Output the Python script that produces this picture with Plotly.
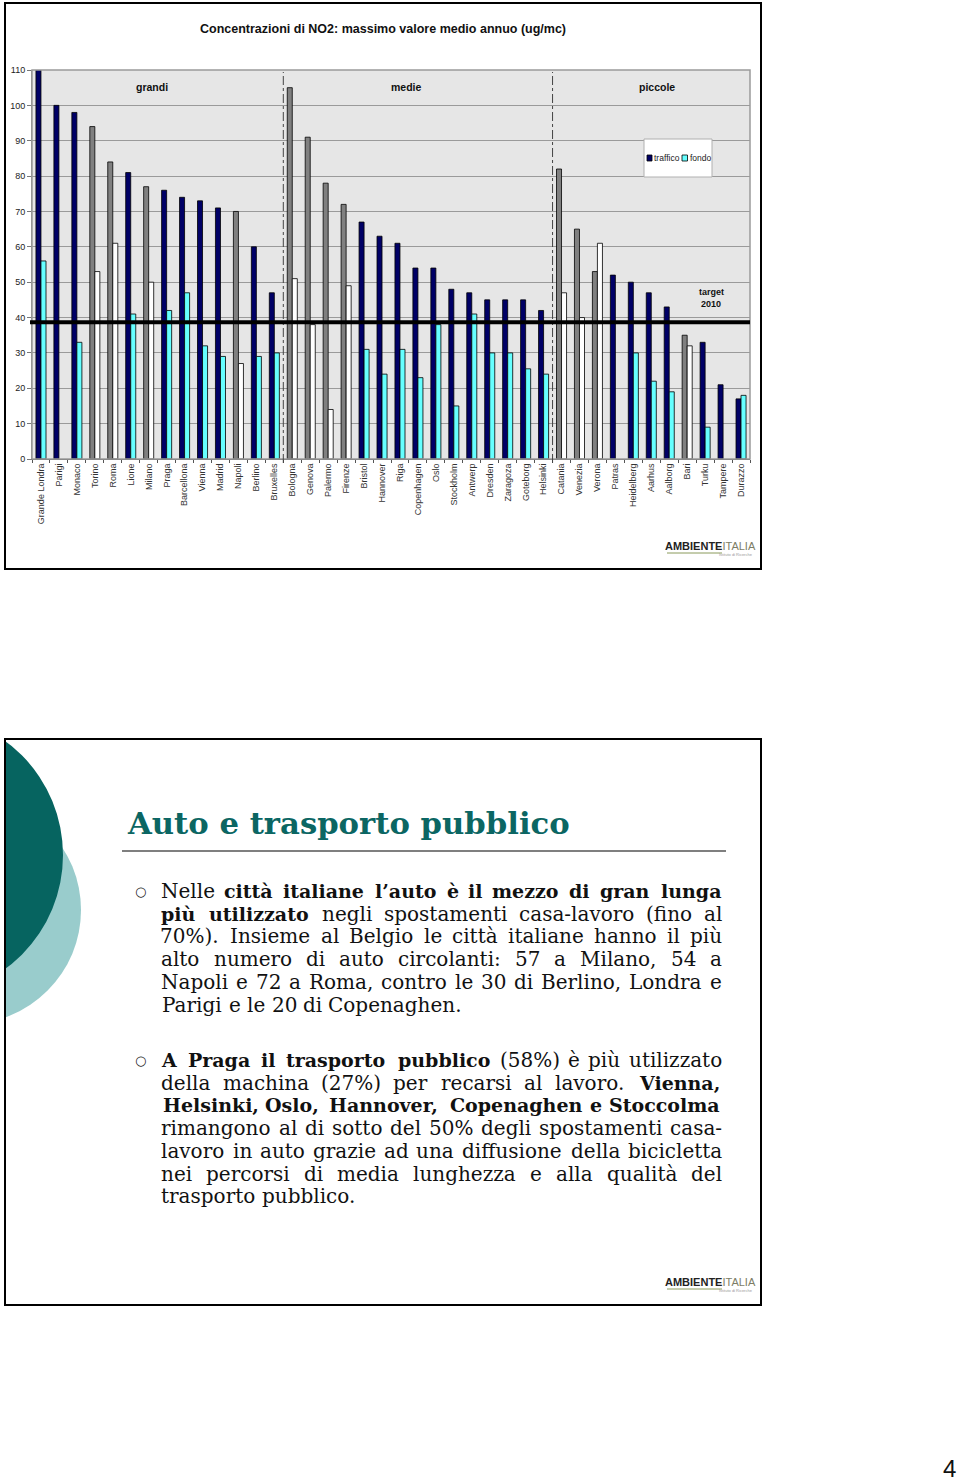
import plotly.graph_objects as go

W, H = 960, 1484


def px(x):
    return x / W


def py(y):
    return 1 - y / H


# ---------------- data ----------------
cities = ["Grande Londra", "Parigi", "Monaco", "Torino", "Roma", "Lione", "Milano", "Praga",
          "Barcellona", "Vienna", "Madrid", "Napoli", "Berlino", "Bruxelles", "Bologna", "Genova",
          "Palermo", "Firenze", "Bristol", "Hannover", "Riga", "Copenhagen", "Oslo", "Stockholm",
          "Antwerp", "Dresden", "Zaragoza", "Goteborg", "Helsinki", "Catania", "Venezia", "Verona",
          "Patras", "Heidelberg", "Aarhus", "Aalborg", "Bari", "Turku", "Tampere", "Durazzo"]
traffico = [111, 100, 98, 94, 84, 81, 77, 76, 74, 73, 71, 70, 60, 47, 105, 91,
            78, 72, 67, 63, 61, 54, 54, 48, 47, 45, 45, 45, 42, 82, 65, 53,
            52, 50, 47, 43, 35, 33, 21, 17]
fondo = [56, None, 33, 53, 61, 41, 50, 42, 47, 32, 29, 27, 29, 30, 51, 38,
         14, 49, 31, 24, 31, 23, 38, 15, 41, 30, 30, 25.5, 24, 47, 40, 61,
         None, 30, 22, 19, 32, 9, None, 18]
italiane = ["Torino", "Roma", "Milano", "Napoli", "Bologna", "Genova", "Palermo", "Firenze",
            "Catania", "Venezia", "Verona", "Bari"]
gruppi = ["grandi", "medie", "piccole"]
gruppi_x = [152, 406, 657]
separatori = [13.5, 28.5]
target = 38.7
y_ticks = list(range(0, 111, 10))

title = "Concentrazioni di NO2: massimo valore medio annuo (ug/mc)"

NAVY = "#000066"
CYAN = "#66ffff"
GRAY = "#808080"
traffic_colors = [GRAY if c in italiane else NAVY for c in cities]
fondo_colors = ["#ffffff" if c in italiane else CYAN for c in cities]

fig = go.Figure()
fig.add_bar(x=cities, y=traffico, name="traffico", showlegend=False,
            marker=dict(color=traffic_colors, line=dict(color="black", width=0.8)))
fig.add_bar(x=cities, y=fondo, name="fondo", showlegend=False,
            marker=dict(color=fondo_colors, line=dict(color="black", width=0.8)))

SANS = "Liberation Sans, Arial, sans-serif"
NARROW = "Liberation Sans Narrow, Arial Narrow, Liberation Sans, sans-serif"
SERIF = "DejaVu Serif, serif"

fig.update_layout(
    width=W, height=H,
    margin=dict(l=0, r=0, t=0, b=0, pad=0),
    autosize=False,
    paper_bgcolor="white",
    plot_bgcolor="#e6e6e6",
    barmode="group", bargap=0.44, bargroupgap=0,
    showlegend=False,
    font=dict(family=SANS, color="#222"),
    xaxis=dict(domain=[px(32), px(750)], type="category", range=[-0.5, len(cities) - 0.5],
               tickangle=-90, tickfont=dict(size=9, color="#333"), ticks="outside",
               ticklen=3, tickson="boundaries", tickcolor="#555", showline=True,
               linecolor="#555", linewidth=1, showgrid=False, fixedrange=True, automargin=False),
    yaxis=dict(domain=[py(459), py(70)], range=[0, 110], tickvals=y_ticks,
               tickfont=dict(size=9, color="#222"), ticks="outside", ticklen=4,
               tickcolor="#777", showline=True, linecolor="#888", linewidth=1,
               showgrid=True, gridcolor="#9a9a9a", gridwidth=1, zeroline=False, automargin=False),
)

shapes = []
annotations = []


def text(t, x, y, size, color="#111", family=SANS, xanchor="center", yanchor="middle"):
    annotations.append(dict(text=t, x=px(x), y=py(y), xref="paper", yref="paper", showarrow=False,
                            xanchor=xanchor, yanchor=yanchor, borderpad=0,
                            font=dict(size=size, color=color, family=family)))


def prect(x0, y0, x1, y1, **kw):
    shapes.append(dict(type="rect", xref="paper", yref="paper", x0=px(x0), x1=px(x1),
                       y0=py(y1), y1=py(y0), **kw))


# plot area border
prect(32, 70, 750, 459, line=dict(color="#9a9a9a", width=1.5), layer="above")
# group separators
for s in separatori:
    shapes.append(dict(type="line", xref="x", yref="paper", x0=s, x1=s, y0=py(463), y1=py(72),
                       line=dict(color="#444", width=1, dash="dashdot")))
# target line
shapes.append(dict(type="line", xref="paper", yref="y", x0=px(30), x1=px(750), y0=target, y1=target,
                   line=dict(color="black", width=4)))
for g, gx in zip(gruppi, gruppi_x):
    text("<b>%s</b>" % g, gx, 87, 10.5)
text("<b>target</b>", 711, 292, 9)
text("<b>2010</b>", 711, 304, 9)
# manual legend
prect(644, 139, 712, 177, fillcolor="white", line=dict(color="#b0b0b0", width=1))
prect(647, 155, 652, 161, fillcolor=NAVY, line=dict(color="black", width=0.8))
prect(682, 155, 687.5, 161, fillcolor=CYAN, line=dict(color="black", width=0.8))
text("traffico", 653, 158, 8.5, color="#222", xanchor="left")
text("fondo", 688.5, 158, 8.5, color="#222", xanchor="left")
# title
text("<b>%s</b>" % title, 383, 29, 12.5, family=NARROW)


def logo(yc):
    text("<b>AMBIENTE</b><span style='color:#7d7d66'>ITALIA</span>", 710, yc, 11, color="#222", family=NARROW)
    shapes.append(dict(type="line", xref="paper", yref="paper", x0=px(667), x1=px(722), y0=py(yc + 7),
                       y1=py(yc + 7), line=dict(color="#8a9a5b", width=1)))
    text("Istituto di Ricerche", 754, yc + 8, 4, color="#999", xanchor="right")


logo(546)
prect(5, 3, 761, 569, line=dict(color="black", width=2))

# ---------------- slide 2 ----------------
shapes.append(dict(type="circle", xref="paper", yref="paper", x0=px(-147), x1=px(81), y0=py(1024), y1=py(796),
                   fillcolor="#99cccc", line=dict(width=0)))
shapes.append(dict(type="circle", xref="paper", yref="paper", x0=px(-218), x1=px(63), y0=py(996), y1=py(714),
                   fillcolor="#066460", line=dict(width=0)))
prect(-20, 690, 6, 1100, fillcolor="white", line=dict(width=0))
prect(0, 690, 100, 739, fillcolor="white", line=dict(width=0))
prect(5, 739, 761, 1305, line=dict(color="black", width=2))

text("<b>Auto e trasporto pubblico</b>", 126, 823, 30.7, color="#0b6663", family=SERIF, xanchor="left")
shapes.append(dict(type="line", xref="paper", yref="paper", x0=px(122), x1=px(726), y0=py(851), y1=py(851),
                   line=dict(color="#555", width=1.5)))

par1 = ["Nelle <b>città italiane l’auto è il mezzo di gran lunga</b>",
        "<b>più utilizzato</b> negli spostamenti casa-lavoro (fino al",
        "70%).  Insieme al Belgio le città italiane hanno il più",
        "alto numero di auto circolanti: 57 a Milano, 54 a",
        "Napoli e 72 a Roma, contro le 30 di Berlino, Londra e",
        "Parigi e le 20 di Copenaghen."]
par2 = ["<b>A Praga il trasporto pubblico</b> (58%) è più utilizzato",
        "della machina (27%) per recarsi al lavoro. <b>Vienna,</b>",
        "<b>Helsinki, Oslo, Hannover, Copenaghen e Stoccolma</b>",
        "rimangono al di sotto del 50% degli spostamenti casa-",
        "lavoro in auto grazie ad una diffusione della bicicletta",
        "nei percorsi di media lunghezza e alla qualità del",
        "trasporto pubblico."]

# approximate DejaVu Serif advance widths (em)
CW = {' ': .318, 'a': .596, 'b': .641, 'c': .55, 'd': .641, 'e': .592, 'f': .371, 'g': .641,
      'h': .644, 'i': .32, 'j': .305, 'k': .604, 'l': .32, 'm': .948, 'n': .644, 'o': .602,
      'p': .641, 'q': .641, 'r': .478, 's': .513, 't': .402, 'u': .644, 'v': .57, 'w': .852,
      'x': .57, 'y': .57, 'z': .525, ',': .318, '.': .318, '(': .39, ')': .39, '%': .95,
      ':': .337, '-': .338, '’': .318, 'à': .596, 'è': .592, 'ù': .644, 'A': .722, 'B': .735,
      'C': .765, 'H': .872, 'I': .46, 'L': .703, 'M': 1.05, 'N': .874, 'O': .82, 'P': .732,
      'R': .77, 'S': .685, 'V': .722}


def words_of(line):
    out = []
    bold = False
    for part in line.replace("<b>", "\x01").replace("</b>", "\x02").split(" "):
        if part == "":
            continue
        b_here = bold or ("\x01" in part)
        if "\x01" in part:
            bold = True
        if "\x02" in part:
            bold = False
        out.append((part.replace("\x01", "").replace("\x02", ""), b_here))
    return out


FS = 20
BS = 19
BOLD_FACTOR = 1.16


def wwidth(w, b):
    e = sum(CW.get(ch, .62) for ch in w)
    return e * BOLD_FACTOR * BS if b else e * FS


LEFT, RIGHT = 161, 722
LH = 22.7
for start, par in [(891, par1), (1060, par2)]:
    text("○", 140, start, 13, color="#222", family="DejaVu Sans")
    for i, line in enumerate(par):
        yy = start + i * LH
        ws = words_of(line)
        widths = [wwidth(w, b) for w, b in ws]
        if i == len(par) - 1:
            gap = CW[' '] * FS
        else:
            gap = (RIGHT - LEFT - sum(widths)) / (len(ws) - 1)
        x = LEFT
        for (w, b), wd in zip(ws, widths):
            if b:
                text("<b>%s</b>" % w, x + wd / 2, yy, BS, family=SERIF)
            else:
                text(w, x + wd / 2, yy, FS, family=SERIF)
            x += wd + gap

logo(1282)
text("4", 957, 1483, 24, color="#111", xanchor="right", yanchor="bottom")

fig.update_layout(shapes=shapes, annotations=annotations)
fig.write_html("out.html")
